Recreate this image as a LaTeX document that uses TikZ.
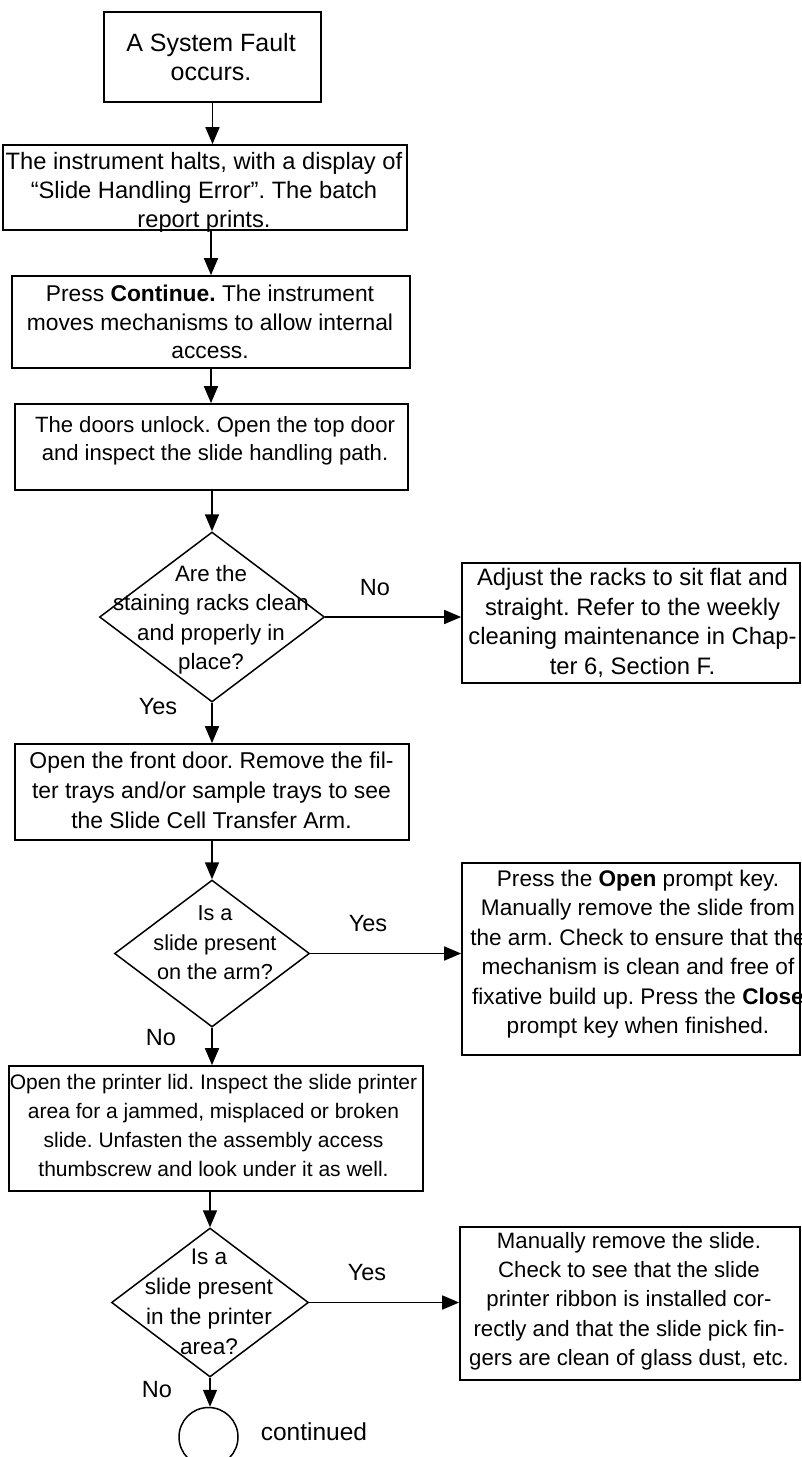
\documentclass[tikz,border=0pt]{standalone}
\usepackage{fontspec}
\setmainfont{Liberation Sans}
\usetikzlibrary{arrows.meta,shapes.geometric,calc}
\newcommand{\fsz}[2]{\fontsize{#1}{#2}\selectfont}
\frenchspacing
\tikzset{
  boxst/.style={draw, rectangle, line width=1.7pt, inner sep=0pt},
  diast/.style={draw, diamond, line width=1.5pt, inner sep=0pt},
  txt/.style={align=center, inner sep=0pt},
  lbl/.style={inner sep=0pt, font=\fsz{23.5}{28}},
  arr/.style={line width=1.7pt, -{Triangle[length=17pt,width=14pt]}},
}
\begin{document}
\begin{tikzpicture}[x=1pt,y=-1pt]
\useasboundingbox (0,0) rectangle (801,1457);
% boxes
\node[boxst, minimum width=217pt, minimum height=90pt] (b1) at (212.5,57) {};
\node[txt, font=\fsz{25}{29}] (t1) at (211,57) {A System Fault\\occurs.};
\node[boxst, minimum width=404pt, minimum height=85pt] (b2) at (205,187.5) {};
\node[txt, font=\fsz{23.7}{29}] (t2) at (204,192) {The instrument halts, with a display of\\“Slide Handling Error”. The batch\\report prints.};
\node[boxst, minimum width=398pt, minimum height=92pt] (b3) at (211,322) {};
\node[txt, font=\fsz{22.8}{28.5}] (t3) at (210,322) {Press \textbf{Continue.} The instrument\\moves mechanisms to allow internal\\access.};
\node[boxst, minimum width=393pt, minimum height=86pt] (b4) at (211.5,447) {};
\node[txt, font=\fsz{22.1}{28}] (t4) at (215,441) {The doors unlock. Open the top door\\and inspect the slide handling path.};
\node[diast, minimum width=225pt, minimum height=170pt] (d1) at (212,617) {};
\node[txt, font=\fsz{22.3}{29.5}] (t5) at (211,619.5) {Are the\\staining racks clean\\and properly in\\place?};
\node[boxst, minimum width=338pt, minimum height=120pt] (r1) at (631,623) {};
\node[txt, font=\fsz{23.8}{29.5}] (t6) at (632.5,623) {Adjust the racks to sit flat and\\straight. Refer to the weekly\\cleaning maintenance in Chap-\\ter 6, Section F.};
\node[boxst, minimum width=394pt, minimum height=96pt] (b5) at (212,792) {};
\node[txt, font=\fsz{22.9}{30}] (t7) at (211.5,790.7) {Open the front door. Remove the fil-\\ter trays and/or sample trays to see\\the Slide Cell Transfer Arm.};
\node[diast, minimum width=195pt, minimum height=147pt] (d2) at (212,953.5) {};
\node[txt, font=\fsz{21.7}{29.5}] (t8) at (215,942.7) {Is a\\slide present\\on the arm?};
\node[boxst, minimum width=338pt, minimum height=192pt] (r2) at (631,959) {};
\node[txt, font=\fsz{22.6}{29.5}] (t9) at (638,954) {Press the \textbf{Open} prompt key.\\Manually remove the slide from\\the arm. Check to ensure that the\\mechanism is clean and free of\\fixative build up. Press the \textbf{Close}\\prompt key when finished.};
\node[boxst, minimum width=414pt, minimum height=125pt] (b6) at (216,1128.5) {};
\node[txt, font=\fsz{21}{29}] (t10) at (213.5,1125) {Open the printer lid. Inspect the slide printer\\area for a jammed, misplaced or broken\\slide. Unfasten the assembly access\\thumbscrew and look under it as well.};
\node[diast, minimum width=197pt, minimum height=149pt] (d3) at (210,1302.5) {};
\node[txt, font=\fsz{22.6}{30}] (t11) at (209,1302) {Is a\\slide present\\in the printer\\area?};
\node[boxst, minimum width=340pt, minimum height=153pt] (r3) at (630,1303.5) {};
\node[txt, font=\fsz{22.2}{29.3}] (t12) at (629,1301) {Manually remove the slide.\\Check to see that the slide\\printer ribbon is installed cor-\\rectly and that the slide pick fin-\\gers are clean of glass dust, etc.};
\node[draw, circle, line width=1.5pt, minimum size=59pt, inner sep=0pt] (c) at (208.5,1437) {};
% labels
\node[lbl] (l1) at (375,588) {No};
\node[lbl] (l2) at (158,707) {Yes};
\node[lbl] (l3) at (368,924) {Yes};
\node[lbl] (l4) at (161,1038) {No};
\node[lbl] (l5) at (367,1273) {Yes};
\node[lbl] (l6) at (157,1390) {No};
\node[lbl, font=\fsz{24.5}{28}] (l7) at (314,1432) {continued};
% connectors
\draw[arr] (b1.south) -- (b1.south |- b2.north);
\draw[arr] (b3.north |- b2.south) -- (b3.north);
\draw[arr] (b3.south) -- (b3.south |- b4.north);
\draw[arr] (d1.north |- b4.south) -- (d1.north);
\draw[arr] (d1.east) -- (d1.east -| r1.west);
\draw[arr] (d1.south) -- (d1.south |- b5.north);
\draw[arr] (d2.north |- b5.south) -- (d2.north);
\draw[arr] (d2.east) -- (d2.east -| r2.west);
\draw[arr] (d2.south) -- (d2.south |- b6.north);
\draw[arr] (d3.north |- b6.south) -- (d3.north);
\draw[arr] (d3.east) -- (d3.east -| r3.west);
\draw[arr] (d3.south) -- (d3.south |- c.north);
\end{tikzpicture}
\end{document}
